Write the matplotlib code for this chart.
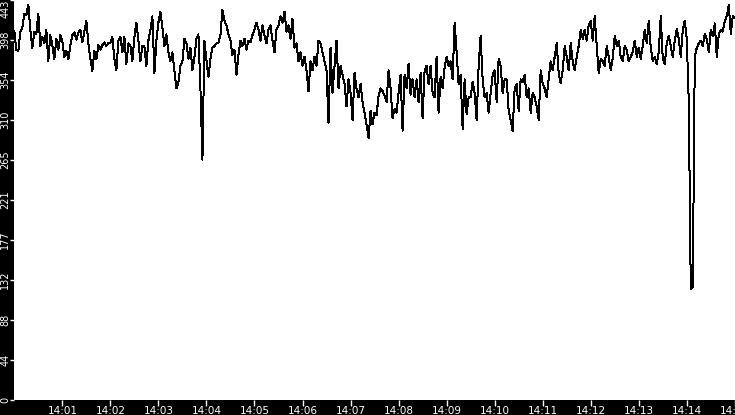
import matplotlib
matplotlib.use("Agg")
import matplotlib.pyplot as plt
import matplotlib.dates as mdates
import pandas as pd
import numpy as np

start_time = "2024-01-01 14:00:00"
end_time = "2024-01-01 14:15:00"
sample_step = "2500ms"

m00 = [409, 388, 386, 408, 412, 428, 426, 438, 410, 390, 408, 405, 428, 392, 402, 395, 410, 375, 404, 393, 377, 400, 388, 404]
m01 = [397, 380, 387, 377, 393, 404, 407, 399, 407, 410, 396, 408, 420, 395, 378, 364, 387, 377, 393, 388, 393, 396, 392, 395]
m02 = [395, 402, 378, 365, 398, 402, 385, 402, 372, 395, 392, 375, 402, 418, 398, 375, 392, 392, 370, 398, 410, 425, 362, 398]
m03 = [418, 430, 412, 392, 405, 385, 375, 385, 365, 345, 352, 370, 375, 400, 395, 378, 390, 365, 380, 400, 405, 345, 266, 398]
m04 = [376, 358, 378, 390, 392, 395, 396, 404, 432, 420, 415, 405, 398, 382, 388, 360, 382, 398, 392, 400, 388, 398, 396, 404]
m05 = [410, 418, 410, 398, 415, 404, 395, 410, 415, 398, 385, 410, 415, 425, 418, 430, 408, 415, 400, 422, 390, 395, 375, 385]
m06 = [370, 380, 365, 342, 375, 365, 380, 370, 398, 395, 385, 375, 365, 307, 390, 340, 370, 398, 345, 370, 360, 350, 325, 355]
m07 = [340, 310, 362, 345, 335, 350, 330, 318, 305, 290, 320, 305, 318, 315, 337, 345, 342, 337, 330, 365, 345, 312, 322, 318]
m08 = [340, 360, 298, 360, 345, 372, 338, 355, 335, 355, 330, 362, 312, 365, 370, 350, 370, 340, 335, 380, 318, 358, 345, 368]
m09 = [380, 370, 375, 355, 418, 385, 350, 360, 300, 355, 316, 335, 335, 352, 340, 310, 370, 403, 355, 335, 340, 318, 340, 360]
m10 = [365, 330, 378, 370, 340, 355, 355, 320, 310, 298, 345, 350, 320, 355, 352, 360, 335, 345, 318, 340, 335, 325, 310, 365]
m11 = [350, 345, 335, 355, 375, 365, 380, 395, 362, 351, 365, 392, 380, 365, 395, 375, 365, 380, 392, 410, 400, 410, 398, 415]
m12 = [420, 398, 425, 392, 362, 378, 375, 370, 392, 380, 365, 378, 403, 392, 398, 380, 375, 392, 388, 375, 380, 385, 398, 380]
m13 = [390, 378, 392, 410, 395, 420, 390, 375, 380, 372, 385, 425, 378, 372, 395, 403, 392, 380, 398, 411, 400, 380, 410, 420]
m14 = [400, 330, 122, 125, 380, 390, 395, 398, 392, 405, 400, 385, 410, 403, 417, 380, 405, 410, 408, 420, 425, 438, 405, 425, 423]

values = m00 + m01 + m02 + m03 + m04 + m05 + m06 + m07 + m08 + m09 + m10 + m11 + m12 + m13 + m14
times = pd.date_range(start=start_time, periods=len(values), freq=sample_step)

y_max = 443
y_tick_labels = ["0", "44", "88", "132", "177", "221", "265", "310", "354", "398", "443"]

W, H = 735, 415
fig = plt.figure(figsize=(W / 100, H / 100), dpi=100, facecolor="black")
ax = fig.add_axes([14.3 / W, (H - 399.5) / H, 720.5 / W, 399.5 / H])
ax.set_facecolor("white")

ax.plot(times, values, color="black", linewidth=0.72, antialiased=False)

ax.set_xlim(pd.Timestamp(start_time), pd.Timestamp(end_time))
ax.set_ylim(0, y_max)

ax.xaxis.set_major_locator(mdates.MinuteLocator(byminute=range(1, 16)))
ax.xaxis.set_major_formatter(mdates.DateFormatter("%H:%M"))

yticks = np.linspace(0, y_max, len(y_tick_labels))
ax.set_yticks(yticks)
ylabels = ax.set_yticklabels(y_tick_labels, rotation=90, va="center")
ylabels[-1].set_va("top")

for s in ax.spines.values():
    s.set_visible(False)

ax.tick_params(axis="x", colors="white", labelcolor="white", labelsize=7.5,
               length=4, width=1, direction="out", pad=1)
ax.tick_params(axis="y", colors="white", labelcolor="white", labelsize=7,
               length=3, width=1, direction="out", pad=0)

fig.savefig("out.png", dpi=100, facecolor="black")
